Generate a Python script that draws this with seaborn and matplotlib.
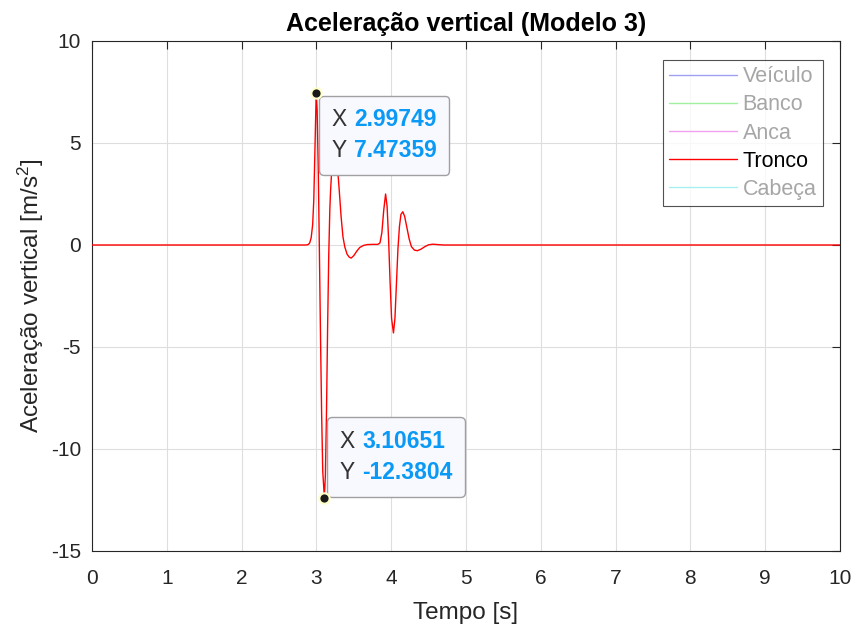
import matplotlib
matplotlib.use("Agg")
import matplotlib.pyplot as plt
from matplotlib.lines import Line2D
from matplotlib.offsetbox import AnnotationBbox, HPacker, VPacker, TextArea
import numpy as np
import pandas as pd
import seaborn as sns

# Tronco vertical acceleration
tempo = [0.0, 2.86, 2.89, 2.91, 2.93, 2.95, 2.965, 2.98, 2.99749, 3.01, 3.025,
         3.04, 3.055, 3.07, 3.085, 3.10651, 3.12, 3.135, 3.15, 3.165, 3.18,
         3.19, 3.21, 3.245, 3.28, 3.305, 3.33, 3.355, 3.38, 3.41, 3.44, 3.465,
         3.50, 3.54, 3.58, 3.63, 3.68, 3.75, 3.82, 3.85, 3.875, 3.90, 3.925,
         3.945, 3.965, 3.985, 4.005, 4.03, 4.05, 4.07, 4.09, 4.11, 4.13, 4.155,
         4.18, 4.21, 4.24, 4.27, 4.31, 4.35, 4.40, 4.45, 4.50, 4.56, 4.62,
         4.70, 10.0]
tronco = [0.0, 0.0, 0.02, 0.1, 0.35, 1.0, 2.2, 4.6, 7.47359, 6.6, 3.7,
          -0.3, -4.5, -8.3, -11.1, -12.3804, -11.3, -8.2, -4.0, -0.5, 1.8,
          2.7, 4.0, 4.5, 3.9, 2.7, 1.4, 0.4, -0.1, -0.45, -0.6, -0.64,
          -0.52, -0.3, -0.12, -0.02, 0.02, 0.03, 0.03, 0.1, 0.6, 1.7, 2.5,
          1.9, 0.3, -1.8, -3.6, -4.31, -3.6, -1.9, -0.2, 0.9, 1.5, 1.63,
          1.4, 0.85, 0.3, -0.08, -0.25, -0.28, -0.2, -0.08, 0.01, 0.04, 0.02,
          0.0, 0.0]

series = ["Veículo", "Banco", "Anca", "Tronco", "Cabeça"]
series_colors = ["#a0a0f0", "#a0f0a0", "#f0a0f0", "#ff0000", "#a8f0f0"]
label_colors = ["#a6a6a6", "#a6a6a6", "#a6a6a6", "#000000", "#a6a6a6"]

tip_x = [2.99749, 3.10651]
tip_y = [7.47359, -12.3804]
tip_text_x = ["2.99749", "3.10651"]
tip_text_y = ["7.47359", "-12.3804"]

sns.set_theme(style="white")
plt.rcParams.update({
    "font.family": ["Liberation Sans", "DejaVu Sans"],
    "mathtext.fontset": "custom",
    "mathtext.rm": "Liberation Sans",
    "mathtext.it": "Liberation Sans",
    "mathtext.default": "regular",
    "axes.unicode_minus": False,
    "text.color": "#262626",
})

df = pd.DataFrame({"t": tempo, "a": tronco})

fig, ax = plt.subplots(figsize=(8.57, 6.28), dpi=100)
fig.subplots_adjust(left=92 / 857, right=840 / 857, top=1 - 41 / 628, bottom=1 - 551 / 628)

sns.lineplot(data=df, x="t", y="a", ax=ax, color="#ff0000", linewidth=1.0, zorder=3)

ax.set_xlim(0, 10)
ax.set_ylim(-15, 10)
ax.set_xticks(range(0, 11))
ax.set_yticks(range(-15, 11, 5))
ax.grid(True, color="#dedede", linewidth=0.8)
ax.tick_params(direction="in", length=6, width=0.8, colors="#262626",
               labelsize=15, top=True, right=True)
ax.tick_params(axis="x", pad=13)
ax.tick_params(axis="y", pad=8)
for s in ax.spines.values():
    s.set_color("#262626")
    s.set_linewidth(0.8)

ax.set_title("Aceleração vertical (Modelo 3)", fontsize=18, fontweight="bold",
             color="black", pad=7)
ax.set_xlabel("Tempo [s]", fontsize=17.5, color="#262626", labelpad=10)
ax.set_ylabel("Aceleração vertical [m/s$^2$]", fontsize=17.5, color="#262626", labelpad=3)

# legend (only Tronco is shown in the plot, the rest are faded)
handles = [Line2D([0], [0], color=c, lw=1.0) for c in series_colors]
leg = ax.legend(handles, series, loc="upper right", fontsize=15.5,
                bbox_to_anchor=(0.977, 0.963), frameon=True, fancybox=False,
                handlelength=3.15, handletextpad=0.25, labelspacing=0.33,
                borderpad=0.3, borderaxespad=0)
leg.get_frame().set_edgecolor("#262626")
leg.get_frame().set_linewidth(0.8)
for txt, c in zip(leg.get_texts(), label_colors):
    txt.set_color(c)

# data tips
ax.scatter(tip_x, tip_y, s=55, color="#1a1a1a", edgecolors="#ffffc8",
           linewidths=1.5, zorder=8)
offsets = [(2.2, -2.2), (2.2, 0.7)]
aligns = [(0, 1), (0, 0)]
for i in range(2):
    rows = []
    for lab, val in [("X", tip_text_x[i]), ("Y", tip_text_y[i])]:
        rows.append(HPacker(children=[
            TextArea(lab, textprops=dict(fontsize=16.5, color="#333333")),
            TextArea(val, textprops=dict(fontsize=16.5, color="#0a99f5",
                                         fontweight="bold")),
        ], sep=5, align="baseline"))
    box = VPacker(children=rows, sep=6, pad=9, align="left")
    ab = AnnotationBbox(box, (tip_x[i], tip_y[i]), xybox=offsets[i],
                        xycoords="data", boxcoords="offset points",
                        box_alignment=aligns[i], pad=0, frameon=True,
                        bboxprops=dict(boxstyle="round,pad=0,rounding_size=0.3",
                                       fc="#f8f8ff", ec="#a0a0a0", lw=1.0),
                        zorder=7)
    ax.add_artist(ab)

fig.savefig("out.png", dpi=100, facecolor="white")
